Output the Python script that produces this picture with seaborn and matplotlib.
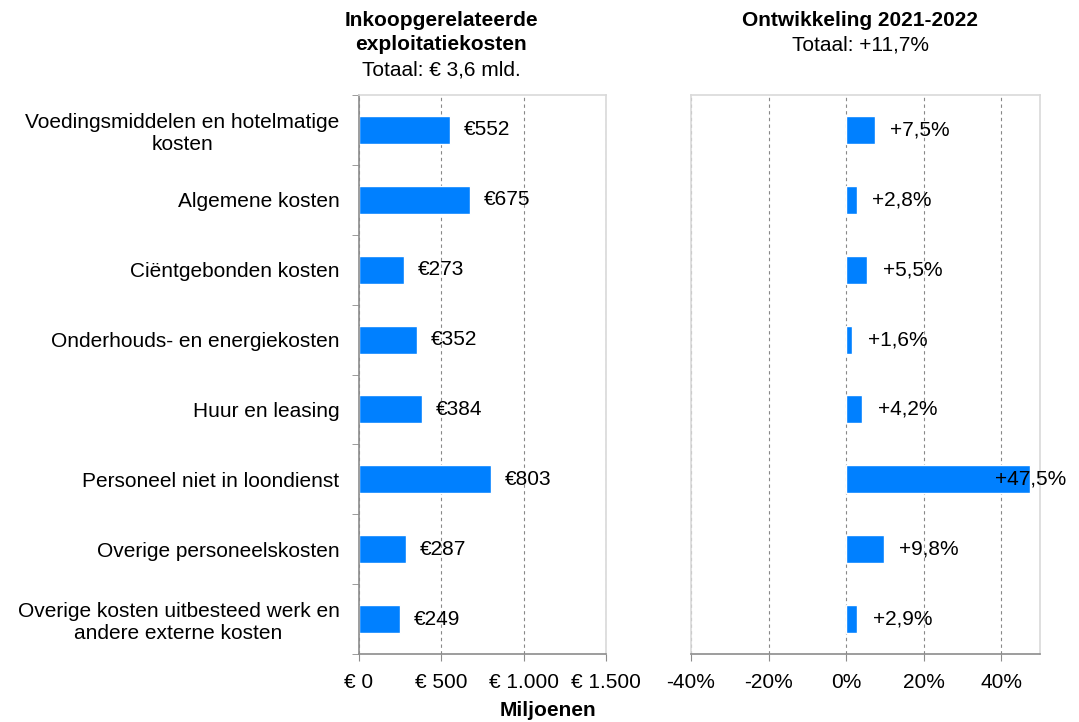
import pandas as pd
import seaborn as sns
import matplotlib
import matplotlib.pyplot as plt
from matplotlib.ticker import FixedLocator, FixedFormatter

# Data
categories = ['Voedingsmiddelen en hotelmatige\nkosten', 'Algemene kosten', 'Ciëntgebonden kosten',
              'Onderhouds- en energiekosten', 'Huur en leasing', 'Personeel niet in loondienst',
              'Overige personeelskosten', 'Overige kosten uitbesteed werk en\nandere externe kosten']
costs = [552, 675, 273, 352, 384, 803, 287, 249]
growth = [7.5, 2.8, 5.5, 1.6, 4.2, 47.5, 9.8, 2.9]
costTicks = [0, 500, 1000, 1500]
costTickLabels = ['€ 0', '€ 500', '€ 1.000', '€ 1.500']
growthTicks = [-40, -20, 0, 20, 40]
growthTickLabels = ['-40%', '-20%', '0%', '20%', '40%']

df = pd.DataFrame({'categorie': categories, 'kosten': costs, 'groei': growth})

# Plot params
sns.set_style('white')
plt.rcParams['font.family'] = ['Liberation Sans', 'DejaVu Sans']
plt.rcParams['text.color'] = 'black'
plt.rcParams['xtick.color'] = 'black'
plt.rcParams['ytick.color'] = 'black'
fs = 15
barColor = '#0080FF'
darkGrey = '#8c8c8c'
lightGrey = '#d9d9d9'

W, H = 1079, 722
fig = plt.figure(figsize=(W / 100, H / 100), dpi=100)
bottom = (H - 654) / H
height = (654 - 95) / H
axL = fig.add_axes([359 / W, bottom, (606 - 359) / W, height])
axR = fig.add_axes([691 / W, bottom, (1040 - 691) / W, height])

def styleAxis(ax, leftDark):
    for side in ['top', 'right']:
        ax.spines[side].set_color(lightGrey)
    ax.spines['left'].set_color(darkGrey if leftDark else lightGrey)
    ax.spines['bottom'].set_color(darkGrey)
    for s in ax.spines.values():
        s.set_linewidth(1.2)
    ax.xaxis.grid(True, linestyle=(0, (3, 3)), color='#888888', linewidth=0.8)
    ax.set_axisbelow(True)
    ax.tick_params(axis='x', which='major', bottom=True, length=5, color=darkGrey, labelsize=fs, pad=9)
    ax.set_xlabel('')
    ax.set_ylabel('')

# Left panel
sns.barplot(data=df, y='categorie', x='kosten', color=barColor, saturation=1, width=0.4, ax=axL, orient='h')
axL.set_xlim(0, 1500)
axL.set_ylim(len(categories) - 0.5, -0.5)
axL.xaxis.set_major_locator(FixedLocator(costTicks))
axL.xaxis.set_major_formatter(FixedFormatter(costTickLabels))
axL.set_yticks(range(len(categories)))
axL.set_yticklabels(categories, ha='right', multialignment='center', fontsize=fs)
axL.yaxis.set_minor_locator(FixedLocator([i - 0.5 for i in range(len(categories) + 1)]))
axL.tick_params(axis='y', which='major', length=0, pad=14)
axL.tick_params(axis='y', which='minor', left=True, length=5, color=darkGrey)
styleAxis(axL, True)
for i, v in enumerate(costs):
    axL.annotate('€%d' % v, (v, i), xytext=(10, 0), textcoords='offset points',
                 va='center', ha='left', fontsize=fs)

# Right panel
sns.barplot(data=df, y='categorie', x='groei', color=barColor, saturation=1, width=0.4, ax=axR, orient='h')
axR.set_xlim(-40, 50)
axR.set_ylim(len(categories) - 0.5, -0.5)
axR.xaxis.set_major_locator(FixedLocator(growthTicks))
axR.xaxis.set_major_formatter(FixedFormatter(growthTickLabels))
axR.set_yticks([])
styleAxis(axR, False)
for i, v in enumerate(growth):
    txt = ('+%.1f%%' % v).replace('.', ',')
    if v > 40:
        # label sits centred on the end of the long bar and runs past the axes
        axR.annotate(txt, (v, i), xytext=(0, 0), textcoords='offset points',
                     va='center', ha='center', fontsize=fs, annotation_clip=False)
    else:
        axR.annotate(txt, (v, i), xytext=(11, 0), textcoords='offset points',
                     va='center', ha='left', fontsize=fs)

# Titles
fig.text(441 / W, 1 - 20 / H, 'Inkoopgerelateerde', ha='center', va='center', fontsize=fs, fontweight='bold')
fig.text(441 / W, 1 - 45 / H, 'exploitatiekosten', ha='center', va='center', fontsize=fs, fontweight='bold')
fig.text(441 / W, 1 - 70 / H, 'Totaal: € 3,6 mld.', ha='center', va='center', fontsize=fs)
fig.text(860 / W, 1 - 20 / H, 'Ontwikkeling 2021-2022', ha='center', va='center', fontsize=fs, fontweight='bold')
fig.text(860 / W, 1 - 45 / H, 'Totaal: +11,7%', ha='center', va='center', fontsize=fs)
fig.text(548 / W, 1 - 711 / H, 'Miljoenen', ha='center', va='center', fontsize=fs, fontweight='bold')

fig.savefig('out.png', dpi=100)
